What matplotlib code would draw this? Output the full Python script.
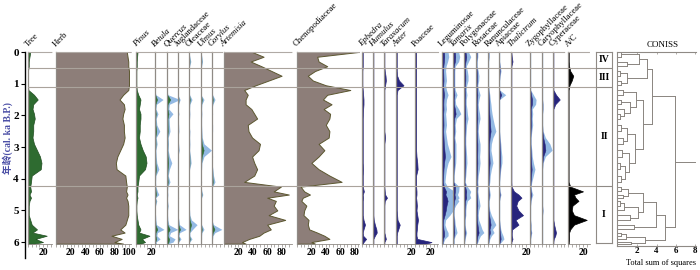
import matplotlib.pyplot as plt
import numpy as np

plt.rcParams['font.family'] = ['Liberation Serif', 'Noto Sans CJK SC']

# sample ages (cal. ka B.P.)
ages = [0.0, 0.15, 0.3, 0.45, 0.6, 0.75, 0.9, 1.05, 1.2, 1.35,
        1.5, 1.65, 1.8, 1.95, 2.1, 2.3, 2.5, 2.7, 2.9, 3.1,
        3.3, 3.5, 3.7, 3.9, 4.1, 4.25, 4.4, 4.5, 4.6, 4.7,
        4.85, 5.0, 5.15, 5.3, 5.45, 5.6, 5.7, 5.8, 5.9, 6.0,
        6.05]

# percentages
tree = [3, 2, 1, 1, 0, 0, 0, 0, 0.5, 8,
        13, 7, 6, 8, 9, 7, 7, 6, 8, 12,
        16, 18, 17, 5, 4, 3, 4, 2, 4, 2,
        1, 1, 1, 3, 5, 12, 6, 25, 10, 20,
        8]
herb = [97, 98, 99, 99, 100, 100, 100, 100, 99, 92,
        87, 93, 94, 92, 91, 93, 93, 94, 92, 88,
        84, 82, 83, 95, 96, 97, 96, 98, 96, 98,
        99, 99, 99, 97, 95, 88, 94, 76, 90, 80,
        92]
pinus = [2, 1.5, 1, 1, 0.5, 0.5, 0.5, 0.5, 1, 3,
         6, 5, 4, 6, 6, 5, 5, 4, 6, 9,
         13, 14, 12, 4, 3, 2, 2, 1, 2, 1,
         0.5, 0.5, 1, 2, 3, 6, 4, 18, 8, 12,
         6]
betula = [0, 0, 0, 0, 0, 0, 0, 0, 0, 0.3,
          2.7, 0.5, 0.3, 1.0, 0.4, 0.6, 1.6, 0.4, 0.7, 0.3,
          0.4, 0.6, 1.3, 0.3, 0.2, 0.3, 0.8, 1.3, 0.2, 0.6,
          0.2, 0, 0.2, 0.3, 0.5, 3.0, 0.8, 0.6, 1.7, 0.3,
          0.5]
quercus = [0, 0, 0, 0.2, 0, 0, 0, 0, 0, 0.3,
           4.3, 0.8, 0.6, 2.0, 0.7, 0.8, 1.0, 0.4, 0.5, 0.4,
           0.8, 1.6, 0.8, 0.4, 1.0, 0.3, 0.2, 0.3, 0.2, 0.2,
           0.4, 0.2, 0.2, 0.3, 0.6, 3.6, 1.2, 0.8, 2.7, 2.0,
           0.5]
jugland = [0, 0, 0, 0, 0, 0, 0, 0, 0, 0,
           0.7, 0.2, 0, 0.3, 0, 0.2, 0.3, 0, 0.2, 0.4,
           0, 0, 0, 0, 0, 0, 0, 0, 0.2, 0,
           0, 0.2, 0, 0.3, 0.5, 2.7, 0.6, 0.3, 1.0, 0.2,
           0]
oleaceae = [0, 0.3, 0.6, 0.2, 0, 0, 0, 0, 0, 0.2,
            1.0, 0.3, 0.2, 0.3, 0.2, 0, 0.3, 0.2, 0.3, 0.2,
            0.5, 0.7, 0.2, 0, 0, 0, 0, 0, 0, 0,
            0, 0.2, 0.3, 0.8, 2.7, 1.2, 0.3, 0.3, 1.0, 0.2,
            0]
ulmus = [0, 0.3, 0.5, 0.2, 0, 0, 0, 0, 0, 0,
         1.0, 0.3, 0.2, 0.3, 0.2, 0.2, 0.3, 0.4, 1.0, 3.5,
         1.0, 0.3, 0.2, 0, 0.2, 0, 0.3, 0.6, 0.2, 0,
         0, 0, 0, 0, 0.2, 1.0, 0.3, 0.2, 0.2, 0,
         0]
corylus = [0, 0, 0, 0, 0, 0, 0, 0, 0, 0.2,
           1.0, 0.3, 0, 0.2, 0, 0.2, 0.2, 0, 0, 0,
           0.2, 0, 0.3, 0.5, 1.0, 0.2, 0, 0, 0, 0,
           0, 0, 0, 0, 0.5, 3.3, 1.0, 0.3, 0.2, 0,
           0]
artemisia = [39, 55, 37, 52, 66, 80, 62, 44, 28, 33,
             30, 30, 38, 42, 46, 33, 34, 39, 50, 48,
             39, 42, 46, 42, 28, 79, 69, 90, 60, 72,
             69, 74, 62, 85, 60, 65, 55, 49, 35, 25,
             30]
chenopod = [85, 28, 30, 42, 25, 15, 22, 40, 74, 42,
            36, 48, 37, 46, 45, 40, 45, 44, 30, 38,
            30, 20, 30, 45, 62, 5, 10, 18, 8, 6,
            13, 10, 9, 16, 15, 17, 28, 38, 45, 20,
            25]
ephedra = [1, 1, 1, 1, 0.5, 0.5, 0.5, 0.5, 1, 1.5,
           2, 2, 1.5, 1.2, 1, 1, 1, 1, 1, 1,
           1, 1, 1.5, 1, 1, 1, 2.5, 1, 1.5, 1,
           1, 1, 1, 2, 4, 2, 1, 1.5, 5.5, 2,
           1]
humulus = [0.5, 0.5, 0.5, 0.5, 0.5, 0.5, 0.5, 0.5, 0.5, 0.5,
           0.5, 0.5, 0.5, 0.5, 0.5, 0.5, 0.5, 0.5, 0.5, 0.5,
           0.5, 0.5, 0.5, 0.5, 0.5, 0.5, 0.5, 0.5, 0.5, 0.5,
           0.5, 0.5, 0.5, 1, 2.5, 4.5, 5, 2.5, 0.5, 0.5,
           0.5]
taraxacum = [0.5, 0.5, 0.5, 0.5, 1, 2, 2.5, 1.5, 0.5, 0.5,
             0.5, 0.5, 0.5, 0.5, 0.5, 0.5, 0.5, 1.5, 0.5, 0.5,
             0.5, 0.5, 0.5, 0.5, 0.5, 0.5, 1, 1.5, 4, 1,
             0.5, 0.5, 0.5, 0.5, 0.5, 0.5, 0.5, 1.5, 2.5, 0.5,
             0.5]
aster = [1, 1, 1, 1, 1, 1.5, 4, 10, 2, 1,
         1, 1, 1, 1, 1, 1, 1, 1, 1, 1,
         1, 1, 1, 1, 1, 1, 1, 1, 1, 1,
         1, 1, 1.5, 2, 5, 3, 1.5, 1, 1, 1,
         1]
poaceae = [1.5, 1.5, 1.5, 1.5, 1.5, 1.5, 1.5, 1.5, 1.5, 1.5,
           1.5, 1.5, 1.5, 1.5, 1.5, 1.5, 1.5, 1.5, 1.5, 1.5,
           2, 3, 3.5, 1.5, 1.5, 1.5, 2, 2, 1.5, 2,
           2.5, 2, 3, 4, 3, 2.5, 2, 2, 3, 22,
           15]
legum = [2.7, 3, 2.5, 1.8, 1.6, 1.8, 2, 1.6, 2, 2.7,
         2, 1.8, 2, 1.6, 1.8, 2, 1.6, 2, 2.4, 3.2,
         4, 2.7, 2, 1.6, 1.3, 2.4, 5.5, 4.5, 6.5, 7.5,
         6, 5, 3.5, 1.6, 1.3, 2, 2.7, 2.7, 1.3, 0.7,
         0.7]
tamarix = [2.5, 3, 2.5, 1, 0.8, 0.8, 0.8, 0.8, 1, 1.8,
           1, 1.2, 2.5, 3.5, 1.5, 1, 1.2, 0.8, 1.3, 1.3,
           1.3, 1.2, 0.8, 0.5, 0.5, 2.7, 2.5, 2, 2.7, 1.5,
           0.8, 0.5, 0.5, 0.8, 1, 1.5, 1.8, 1, 0.5, 0.5,
           0.5]
polygon = [2, 3, 2, 1, 1.5, 1.8, 1.8, 1.2, 1, 1.3,
           1, 1, 1.3, 1.5, 1.8, 1.2, 1, 0.8, 0.8, 1,
           1.2, 1.3, 1, 0.8, 0.5, 1.5, 3, 2.5, 3, 1.5,
           1, 0.8, 0.8, 0.5, 0.5, 0.8, 1.2, 0.8, 0.5, 0.3,
           0.3]
rosaceae = [0.8, 0.8, 0.5, 0.5, 1, 1.3, 1.2, 0.8, 1.2, 1.8,
            1.3, 1, 1.2, 1.6, 1.8, 1.2, 1, 1.3, 1.8, 1.8,
            1.6, 1.8, 1.5, 1, 0.8, 1, 0.8, 1, 1.2, 1.5,
            1.8, 1.2, 1, 1.2, 2, 2.7, 3.5, 2, 1.3, 0.8,
            0.5]
ranunc = [0.5, 0.5, 0.3, 0.3, 0.3, 0.3, 0.3, 0.3, 0.5, 0.8,
          1, 1.3, 1.5, 1.8, 2.2, 2.8, 3.5, 2.2, 1.5, 1.3,
          1.8, 2.2, 1.5, 1, 0.8, 0.5, 0.8, 1, 0.8, 0.5,
          0.5, 0.8, 1.5, 2.5, 3.5, 2, 2.7, 1.5, 0.8, 0.5,
          0.3]
apiaceae = [0.3, 0.3, 0.3, 0.6, 0.9, 0.5, 0.3, 0.3, 0.3, 3,
            0.3, 0.3, 0.3, 0.3, 0.3, 0.3, 0.3, 0.5, 0.8, 1,
            1.3, 1.3, 0.8, 0.5, 0.3, 0.3, 0.5, 0.9, 0.5, 0.3,
            0.3, 0.3, 0.3, 0.3, 0.5, 0.8, 1.2, 1.8, 2.2, 1,
            0.3]
thalic = [0.5, 1, 2, 0.5, 0.5, 0.5, 0.5, 0.5, 0.5, 0.5,
          0.5, 0.5, 0.5, 0.5, 0.5, 0.5, 0.5, 0.5, 0.5, 0.5,
          0.5, 0.5, 0.5, 0.5, 0.5, 0.8, 4, 10, 14, 9,
          7, 10, 16, 6, 10, 1.5, 1, 1, 2, 0.5,
          0.5]
zygo = [0.3, 0.3, 0.3, 0.3, 0.3, 0.3, 0.3, 0.3, 0.3, 1.5,
        2.7, 2.5, 1, 1.2, 1, 1.2, 0.8, 0.5, 0.5, 0.8,
        1, 1.5, 2.2, 1.5, 0.8, 0.5, 0.8, 1.3, 0.8, 0.5,
        0.3, 0.3, 0.3, 0.3, 0.5, 0.5, 0.8, 0.5, 0.3, 0.3,
        0.3]
caryo = [0.3, 0.3, 0.3, 0.3, 0.3, 0.3, 0.3, 0.3, 0.3, 0.3,
         0.3, 0.5, 0.5, 0.3, 0.3, 0.3, 0.5, 1.5, 3.5, 4.5,
         1.5, 0.5, 0.3, 0.3, 0.3, 0.3, 0.3, 0.3, 0.3, 0.3,
         0.3, 0.5, 0.3, 0.3, 0.3, 0.3, 0.3, 0.3, 0.3, 0.3,
         0.3]
cyper = [0.5, 0.5, 0.5, 0.5, 0.5, 0.5, 0.5, 0.5, 0.5, 4,
         9, 3, 0.5, 0.5, 0.5, 0.5, 0.5, 0.5, 0.5, 0.5,
         0.5, 0.5, 0.5, 0.5, 0.5, 0.5, 0.5, 0.5, 0.5, 0.5,
         0.5, 0.5, 0.5, 0.5, 1.5, 3, 4, 3, 1, 0.5,
         0.5]
ac_ratio = [1, 1, 1, 1.5, 3, 7, 5, 2, 0.8, 0.8,
            0.8, 0.8, 0.8, 0.8, 0.8, 0.8, 0.8, 0.8, 0.8, 0.8,
            0.8, 0.8, 0.8, 0.8, 0.8, 3, 20, 8, 10, 14,
            6, 5, 8, 25, 8, 3, 1.5, 1.5, 1.5, 1,
            1]

zone_bounds = [0.5, 1.1, 4.23]
zone_names = ['IV', 'III', 'II', 'I']

# CONISS dendrogram: [height, left, right], leaves are sample indices
coniss_iv = [2.2, [0.3, 0, 1], [0.9, 2, 3]]
coniss_iii = [0.9, [0.2, 4, 5], [0.3, 6, 7]]
coniss_ii = [2.6, [1.9, [0.5, 8, 9], [1.2, [0.3, 10, 11], [0.6, 12, [0.2, 13, 14]]]],
             [1.8, [0.9, [0.3, 15, 16], [0.5, 17, 18]],
              [1.1, [0.4, 19, 20], [0.7, [0.2, 21, 22], [0.3, 23, 24]]]]]
coniss_i = [4.9, [3.9, [2.6, [1.0, [0.3, 25, 26], [0.5, 27, 28]],
                        [2.1, [0.6, [0.2, 29, 30], 31], [1.2, 32, 33]]],
                  [1.7, 34, 35]],
            [2.8, [0.8, [0.3, 36, 37], 38], [1.4, 39, 40]]]
coniss_root = [5.9, [3.5, [3.0, coniss_iv, coniss_iii], coniss_ii], coniss_i]

GREEN = '#2e6b30'
BROWN = '#8d7e79'
OLIVE = '#5c5730'
LBLUE = '#93b9e3'
NAVY = '#27257c'
GRAY = '#8f8a85'
ZGRAY = '#aaa39c'

W, H = 700, 270
Y0 = 52          # pixel row of 0 ka
PX_KA = 31.68    # pixels per ka
BOT = 244        # pixel row of panel bottoms
KA_BOT = (BOT - Y0) / PX_KA

fig = plt.figure(figsize=(7, 2.7), dpi=100)


def px_box(x, top, w, h):
    return [x / W, 1 - (top + h) / H, w / W, h / H]


# label, data, left px, width px, px per %, style, italic, labelled ticks
panels = [
    ('Tree', tree, 28, 24, 0.75, 'green', False, [20]),
    ('Herb', herb, 56, 75, 0.73, 'brown', False, [20, 40, 60, 80, 100]),
    ('Pinus', pinus, 136, 18, 0.75, 'green', True, [20]),
    ('Betula', betula, 155, 11, 0.75, 'tree_ex', True, []),
    ('Quercus', quercus, 167, 10, 0.75, 'tree_ex', True, []),
    ('Juglandaceae', jugland, 178, 10, 0.75, 'tree_ex', False, []),
    ('Oleaceae', oleaceae, 189, 11, 0.75, 'tree_ex', False, []),
    ('Ulmus', ulmus, 201, 10, 0.75, 'tree_ex', True, []),
    ('Corylus', corylus, 212, 10, 0.75, 'tree_ex', True, []),
    ('Artemisia', artemisia, 224, 68, 0.72, 'brown', True, [20, 40, 60, 80]),
    ('Chenopodiaceae', chenopod, 297, 62, 0.72, 'brown', False, [20, 40, 60, 80]),
    ('Ephedra', ephedra, 362, 10, 0.75, 'navy', True, []),
    ('Humulus', humulus, 373, 10, 0.75, 'navy', True, []),
    ('Taraxacum', taraxacum, 384, 11, 0.75, 'navy', True, []),
    ('Aster', aster, 396, 18, 0.75, 'navy', True, [20]),
    ('Poaceae', poaceae, 415, 23, 0.75, 'navy', False, [20]),
    ('Leguminosae', legum, 442, 10, 0.75, 'herb_ex', False, []),
    ('Tamarix', tamarix, 453, 10, 0.75, 'herb_ex', True, []),
    ('Polygonaceae', polygon, 464, 11, 0.75, 'herb_ex', False, []),
    ('Rosaceae', rosaceae, 476, 11, 0.75, 'herb_ex', False, []),
    ('Ranunculaceae', ranunc, 488, 10, 0.75, 'herb_ex', False, []),
    ('Apiaceae', apiaceae, 499, 11, 0.75, 'herb_ex', False, []),
    ('Thalictrum', thalic, 511, 18, 0.75, 'navy', True, [20]),
    ('Zygophyllaceae', zygo, 530, 11, 0.75, 'herb_ex', False, []),
    ('Caryophyllaceae', caryo, 542, 10, 0.75, 'herb_ex', False, []),
    ('Cyperaceae', cyper, 553, 12, 0.75, 'navy', False, []),
    ('A/C', ac_ratio, 568, 22, 0.75, 'black', False, [20]),
]

for label, vals, left, width, scale, style, italic, labelled in panels:
    ax = fig.add_axes(px_box(left, Y0, width, BOT - Y0))
    ax.patch.set_visible(False)
    ax.set_xlim(0, width / scale)
    ax.set_ylim(KA_BOT, 0)
    v = np.array(vals, dtype=float)
    if style == 'green':
        ax.fill_betweenx(ages, 0, v, color=GREEN, ec='#1f4d20', lw=0.5)
    elif style == 'brown':
        ax.fill_betweenx(ages, 0, v, color=BROWN, ec=OLIVE, lw=0.7)
    elif style in ('tree_ex', 'herb_ex'):
        ex = 4 if style == 'tree_ex' else 3
        core = GREEN if style == 'tree_ex' else NAVY
        ax.fill_betweenx(ages, 0, v * ex, color=LBLUE, lw=0, clip_on=False)
        ax.fill_betweenx(ages, 0, v, color=core, ec=core, lw=0.4, clip_on=False)
    elif style == 'navy':
        ax.fill_betweenx(ages, 0, v, color=NAVY, ec=NAVY, lw=0.5, clip_on=False)
    else:
        ax.fill_betweenx(ages, 0, v, color='black', ec='black', lw=0.5, clip_on=False)

    ax.spines['right'].set_visible(False)
    ax.spines['left'].set_color(GRAY)
    ax.spines['left'].set_linewidth(0.9)
    ax.spines['bottom'].set_color(GRAY)
    ax.spines['bottom'].set_linewidth(0.6)
    ax.spines['top'].set_color('#b0aaa5')
    ax.spines['top'].set_linewidth(0.8)
    ax.spines['top'].set_linestyle((0, (1.2, 1.0)))
    ax.set_yticks([])
    ax.set_xticks(labelled)
    ax.set_xticklabels([str(t) for t in labelled], fontsize=7, fontweight='bold')
    ax.set_xticks(np.arange(0, width / scale, 5), minor=True)
    ax.tick_params(axis='x', which='both', length=1.8, width=0.5, color=GRAY, pad=1)

    fig.text((left + 1) / W, 1 - 48 / H, label, rotation=45, rotation_mode='anchor',
             ha='left', va='bottom', fontsize=6.3,
             fontstyle='italic' if italic else 'normal')

# age axis
ax_age = fig.add_axes(px_box(25, Y0, 2, 258 - Y0))
ax_age.patch.set_visible(False)
ax_age.set_ylim((258 - Y0) / PX_KA, 0)
ax_age.set_xlim(0, 1)
for s in ['top', 'right', 'bottom']:
    ax_age.spines[s].set_visible(False)
ax_age.spines['left'].set_linewidth(1.0)
ax_age.set_xticks([])
ax_age.set_yticks(range(7))
ax_age.tick_params(axis='y', length=3, width=0.8, pad=1.5, labelsize=8)
for t in ax_age.get_yticklabels():
    t.set_fontweight('bold')
fig.text(8 / W, 1 - 138 / H, '年龄(cal. ka B.P.)', rotation=90, ha='center', va='center',
         fontsize=7, fontweight='bold', color='#4b4fa6')

# zone boundary lines across the diagram
ax_zl = fig.add_axes(px_box(28, Y0, 568, BOT - Y0))
ax_zl.set_ylim(KA_BOT, 0)
ax_zl.set_xlim(0, 1)
ax_zl.axis('off')
for b in zone_bounds:
    ax_zl.axhline(b, color=ZGRAY, lw=0.8)

# zone box
ax_zb = fig.add_axes(px_box(596, Y0, 16, BOT - 1 - Y0))
ax_zb.set_ylim((BOT - 1 - Y0) / PX_KA, 0)
ax_zb.set_xlim(0, 1)
ax_zb.set_xticks([])
ax_zb.set_yticks([])
for s in ax_zb.spines.values():
    s.set_color(GRAY)
    s.set_linewidth(0.8)
edges = [0] + zone_bounds + [(BOT - 1 - Y0) / PX_KA]
for b in zone_bounds:
    ax_zb.axhline(b, color=GRAY, lw=0.8)
for name, a, b in zip(zone_names, edges[:-1], edges[1:]):
    ax_zb.text(0.5, (a + b) / 2, name, ha='center', va='center', fontsize=7,
               fontweight='bold')

# CONISS
C_BOT = 246
ax_c = fig.add_axes(px_box(617, Y0, 79, C_BOT - Y0))
ax_c.patch.set_visible(False)
ax_c.set_xlim(-0.1, 8.1)
ax_c.set_ylim((C_BOT - Y0) / PX_KA, 0)
ax_c.spines['right'].set_visible(False)
for s in ['left', 'top', 'bottom']:
    ax_c.spines[s].set_color(GRAY)
    ax_c.spines[s].set_linewidth(0.8)
ax_c.set_yticks([])
ax_c.set_xticks([2, 4, 6, 8])
ax_c.set_xticklabels(['2', '4', '6', '8'], fontsize=6.5, fontweight='bold')
ax_c.tick_params(axis='x', length=1.5, width=0.5, color=GRAY, pad=0.5, top=True,
                 direction='in')

DCOL = '#8a8580'


def draw_node(node):
    if isinstance(node, int):
        return 0.0, ages[node]
    h, a, b = node
    xa, ya = draw_node(a)
    xb, yb = draw_node(b)
    ax_c.plot([xa, h], [ya, ya], color=DCOL, lw=0.7)
    ax_c.plot([xb, h], [yb, yb], color=DCOL, lw=0.7)
    ax_c.plot([h, h], [ya, yb], color=DCOL, lw=0.7)
    return h, (ya + yb) / 2


rx, ry = draw_node(coniss_root)
ax_c.plot([rx, 8.0], [ry, ry], color=DCOL, lw=0.7)

fig.text(663 / W, 1 - 45 / H, 'CONISS', ha='center', va='center', fontsize=6.5)
fig.text(661 / W, 1 - 263 / H, 'Total sum of squares', ha='center', va='center',
         fontsize=6)

fig.savefig('out.png', dpi=100)
